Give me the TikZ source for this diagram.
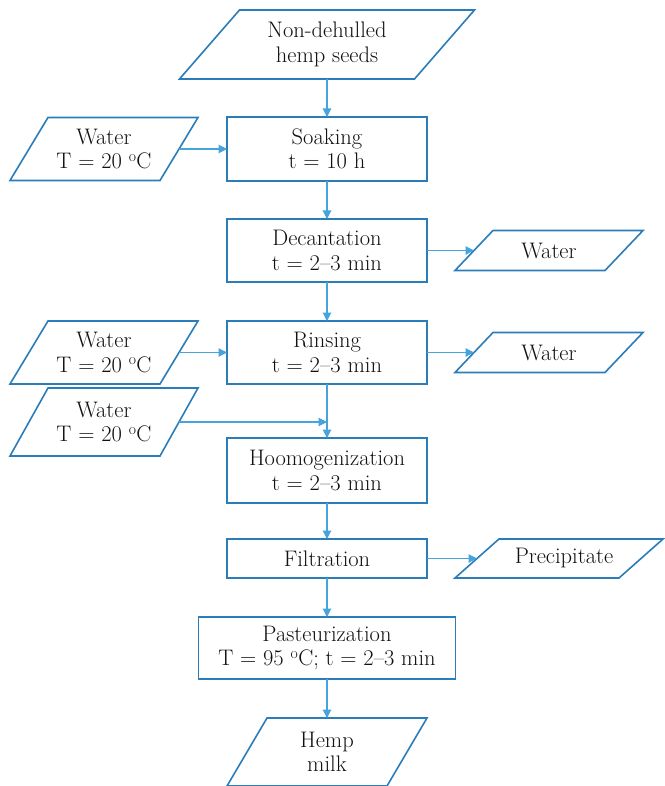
\documentclass[tikz,border=0pt]{standalone}
\usepackage{tikz}
\usetikzlibrary{arrows.meta, positioning}
\definecolor{azulmarco}{HTML}{2A7DB8}
\definecolor{azulflecha}{HTML}{45A3DE}
\definecolor{tinta}{HTML}{111111}
\colorlet{colBorde}{azulmarco}
\colorlet{colFlecha}{azulflecha}
\colorlet{colTexto}{tinta}
\tikzset{
  cajaBase/.style={
    rectangle, align=center, inner sep=2pt, outer sep=0pt,
    font=\fontsize{22.5}{24.5}\selectfont, text=colTexto
  },
  cajaProceso/.style={cajaBase, draw=colBorde, line width=1.6pt, fill=white,
    minimum width=200pt, minimum height=63pt},
  cajaDato/.style={cajaBase, minimum width=188pt, minimum height=63pt},
  bordeDato/.style={draw=colBorde, line width=1.6pt, line join=miter},
  flecha/.style={-{Triangle[length=8.5pt, width=8.5pt]}, line width=1.1pt, colFlecha},
}
% paralelogramo alrededor de un nodo: #1 nombre, #2 desplazamiento
\newcommand{\paralelo}[2]{%
  \draw[bordeDato] ([xshift=#2]#1.north west) -- (#1.north east)
    -- ([xshift=-#2]#1.south east) -- (#1.south west) -- cycle;}

\begin{document}
\begin{tikzpicture}
  \useasboundingbox (0,0) rectangle (664pt,-786pt);
  % columna central
  \node[cajaProceso, minimum height=64pt] (remojo) at (327pt,-149pt) {Soaking\\t = 10 h};
  \node[cajaDato, minimum width=295pt, minimum height=69pt, above=38pt of remojo] (semillas)
    {Non-dehulled\\hemp seeds};
  \node[cajaProceso, below=38pt of remojo] (decantacion) {Decantation\\t = 2--3 min};
  \node[cajaProceso, below=39pt of decantacion] (enjuague) {Rinsing\\t = 2--3 min};
  \node[cajaProceso, minimum height=65pt, below=54pt of enjuague] (homog) {Hoomogenization\\t = 2--3 min};
  \node[cajaProceso, minimum height=39pt, below=36pt of homog] (filtrado) {Filtration};
  \node[cajaProceso, minimum width=257pt, minimum height=62pt, below=39pt of filtrado] (pasteur)
    {Pasteurization\\T = 95 \textsuperscript{o}C; t = 2--3 min};
  \node[cajaDato, minimum width=200pt, minimum height=68pt, below=39pt of pasteur] (leche) {Hemp\\milk};

  % entradas y salidas
  \node[cajaDato, left=29pt of remojo] (agua1) {Water\\T = 20 \textsuperscript{o}C};
  \node[cajaDato, left=29pt of enjuague] (agua2) {Water\\T = 20 \textsuperscript{o}C};
  \node[cajaDato, minimum height=68pt, below=4pt of agua2] (agua3) {Water\\T = 20 \textsuperscript{o}C};
  \node[cajaDato, minimum height=40pt, right=28pt of decantacion] (aguaSal1) {Water};
  \node[cajaDato, minimum height=40pt, right=28pt of enjuague] (aguaSal2) {Water};
  \node[cajaDato, minimum width=208pt, minimum height=39pt, right=28pt of filtrado] (precipitado)
    {\hspace*{10pt}Precipitate};
  \coordinate (junta) at (agua3.east -| homog.north);

  \paralelo{semillas}{60pt}
  \paralelo{leche}{40pt}
  \paralelo{agua1}{38pt}
  \paralelo{agua2}{38pt}
  \paralelo{agua3}{38pt}
  \paralelo{aguaSal1}{38pt}
  \paralelo{aguaSal2}{38pt}
  \paralelo{precipitado}{44pt}

  \draw[flecha] (semillas) -- (remojo);
  \draw[flecha] (remojo) -- (decantacion);
  \draw[flecha] (decantacion) -- (enjuague);
  \draw[flecha] (enjuague) -- (homog);
  \draw[flecha] (homog) -- (filtrado);
  \draw[flecha] (filtrado) -- (pasteur);
  \draw[flecha] (pasteur) -- (leche);
  \draw[flecha] ([xshift=-19pt]agua1.east) -- (remojo);
  \draw[flecha] ([xshift=-19pt]agua2.east) -- (enjuague);
  \draw[flecha] ([xshift=-19pt]agua3.east) -- (junta);
  \draw[flecha] (decantacion) -- ([xshift=19pt]aguaSal1.west);
  \draw[flecha] (enjuague) -- ([xshift=19pt]aguaSal2.west);
  \draw[flecha] (filtrado) -- ([xshift=22pt]precipitado.west);
\end{tikzpicture}
\end{document}
